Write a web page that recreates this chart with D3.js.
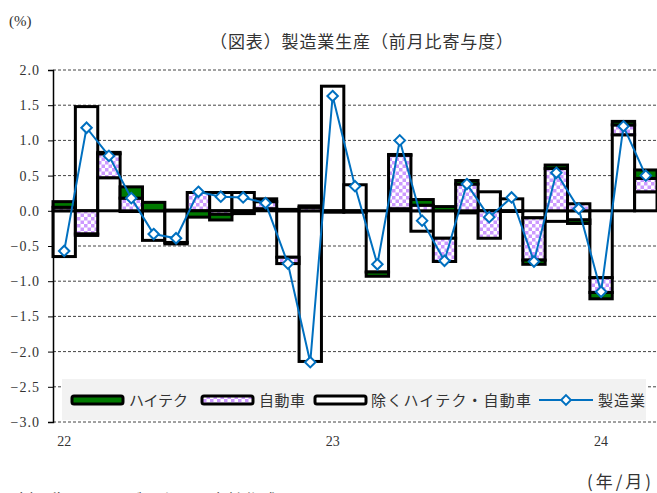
<!DOCTYPE html>
<html>
<head>
<meta charset="utf-8">
<script src="https://cdn.jsdelivr.net/npm/d3@7"></script>
<style>
  body { margin: 0; background: #fff; }
  svg text { fill: #333; }
</style>
</head>
<body>
<svg id="chart" width="657" height="493"></svg>
<script>
// monthly contributions, Jan 2022 .. Mar 2024
const months = d3.range(27);
const yearTicks = [{ i: 0, label: '22' }, { i: 12, label: '23' }, { i: 24, label: '24' }];

const hitech = [0.08, -0.02, 0.02, 0.16, 0.12, 0.01, -0.09, -0.08, 0.00, 0.04, 0.02, 0.02,
                -0.02, -0.02, -0.06, 0.01, 0.08, 0.06, 0.05, 0.00, -0.01, -0.06, 0.05, -0.05,
                -0.09, 0.05, 0.12];
const auto = [0.05, -0.33, 0.34, 0.18, 0.00, -0.02, 0.26, -0.05, -0.04, 0.10, -0.09, 0.05,
              0.00, 0.00, 0.00, 0.76, 0.08, -0.33, 0.38, -0.39, 0.00, -0.60, 0.60, 0.10,
              -0.21, 0.14, 0.19];
const exHitechAuto = [-0.65, 1.48, 0.47, -0.01, -0.42, -0.45, 0.00, 0.26, 0.26, 0.03, -0.66, -2.14,
                      1.77, 0.37, -0.87, 0.03, -0.29, -0.39, -0.03, 0.27, 0.17, -0.10, -0.15, -0.13,
                      -0.95, 1.08, 0.27];
const manufacturing = [-0.57, 1.18, 0.78, 0.18, -0.33, -0.39, 0.27, 0.20, 0.19, 0.11, -0.75, -2.15,
                       1.63, 0.35, -0.76, 1.00, -0.14, -0.71, 0.38, -0.09, 0.19, -0.72, 0.54, 0.03,
                       -1.15, 1.20, 0.50];
const yTicks = d3.range(-3, 2.01, 0.5);

const jpFont = '"Noto Sans CJK JP", sans-serif';
const numFont = '"Liberation Serif", "DejaVu Serif", serif';

const svg = d3.select('#chart');

const x = d3.scaleBand().domain(months).range([53, 657]).padding(0);
const y = d3.scaleLinear().domain([-3, 2]).range([422, 70]);

// checker pattern for the auto series
const defs = svg.append('defs');
const pat = defs.append('pattern')
    .attr('id', 'checker')
    .attr('patternUnits', 'userSpaceOnUse')
    .attr('width', 7).attr('height', 7);
pat.append('rect').attr('width', 7).attr('height', 7).attr('fill', '#fff');
pat.append('rect').attr('width', 3.5).attr('height', 3.5).attr('fill', '#cc99ff');
pat.append('rect').attr('x', 3.5).attr('y', 3.5).attr('width', 3.5).attr('height', 3.5).attr('fill', '#cc99ff');

// gridlines
svg.append('g').selectAll('line')
  .data(yTicks.filter(d => Math.abs(d) > 1e-9))
  .enter().append('line')
    .attr('x1', 53).attr('x2', 657)
    .attr('y1', d => y(d)).attr('y2', d => y(d))
    .attr('stroke', '#444')
    .attr('stroke-width', 1)
    .attr('stroke-dasharray', '3,2');

// zero line
svg.append('line')
  .attr('x1', 53).attr('x2', 657)
  .attr('y1', y(0)).attr('y2', y(0))
  .attr('stroke', '#777').attr('stroke-width', 1.2);

// stacked bars
const table = months.map(i => ({ ex: exHitechAuto[i], auto: auto[i], hitech: hitech[i] }));
const keys = ['ex', 'auto', 'hitech'];
const fills = { ex: '#ffffff', auto: 'url(#checker)', hitech: '#007a00' };
const series = d3.stack().keys(keys).offset(d3.stackOffsetDiverging)(table);

svg.append('g').selectAll('g')
  .data(series)
  .enter().append('g')
    .attr('fill', d => fills[d.key])
  .selectAll('rect')
  .data(d => d.map((v, i) => ({ v, i })))
  .enter().append('rect')
    .attr('x', d => x(d.i))
    .attr('width', x.bandwidth())
    .attr('y', d => y(Math.max(d.v[0], d.v[1])))
    .attr('height', d => Math.abs(y(d.v[0]) - y(d.v[1])))
    .attr('stroke', '#000')
    .attr('stroke-width', d => Math.abs(d.v[1] - d.v[0]) > 1e-9 ? 3 : 0);

// left axis
const yAxis = svg.append('g').attr('transform', 'translate(53,0)')
  .call(d3.axisLeft(y).tickValues(yTicks).tickSize(5).tickPadding(8)
    .tickFormat(d => d3.format('.1f')(d).replace('-', '−')));
yAxis.select('.domain').attr('stroke', '#000').attr('stroke-width', 1.5);
yAxis.selectAll('.tick line').attr('stroke', '#000');
yAxis.selectAll('text')
  .attr('font-family', numFont).attr('font-size', 14)
  .attr('letter-spacing', '1px').attr('fill', '#333');

// x labels
svg.append('g').selectAll('text')
  .data(yearTicks)
  .enter().append('text')
    .attr('x', d => x(d.i) + x.bandwidth() / 2)
    .attr('y', 446)
    .attr('text-anchor', 'middle')
    .attr('font-family', numFont).attr('font-size', 14)
    .text(d => d.label);

// manufacturing line
const line = d3.line().x((d, i) => x(i) + x.bandwidth() / 2).y(d => y(d));
svg.append('path')
  .datum(manufacturing)
  .attr('d', line)
  .attr('fill', 'none')
  .attr('stroke', '#0070c0')
  .attr('stroke-width', 2);

svg.append('g').selectAll('path')
  .data(manufacturing)
  .enter().append('path')
    .attr('d', d3.symbol(d3.symbolDiamond2, 70))
    .attr('transform', (d, i) => `translate(${x(i) + x.bandwidth() / 2},${y(d)})`)
    .attr('fill', '#fff')
    .attr('stroke', '#0070c0')
    .attr('stroke-width', 2);

// legend
const lg = svg.append('g');
lg.append('rect').attr('x', 62).attr('y', 379).attr('width', 584).attr('height', 41).attr('fill', '#f2f2f2');

const legendItems = [
  { label: 'ハイテク', fill: fills.hitech, x: 72, tx: 129, w: 59 },
  { label: '自動車', fill: fills.auto, x: 202, tx: 259, w: 46 },
  { label: '除くハイテク・自動車', fill: fills.ex, x: 315, tx: 371, w: 160 }
];
const ly = 400;
legendItems.forEach(it => {
  lg.append('rect')
    .attr('x', it.x).attr('y', ly - 4).attr('width', 51).attr('height', 8)
    .attr('rx', 2)
    .attr('fill', it.fill).attr('stroke', '#000').attr('stroke-width', 3);
  lg.append('text')
    .attr('x', it.tx).attr('y', ly + 5.5)
    .attr('font-family', jpFont).attr('font-size', 15)
    .attr('textLength', it.w)
    .text(it.label);
});
lg.append('line').attr('x1', 539).attr('x2', 593).attr('y1', ly).attr('y2', ly)
  .attr('stroke', '#0070c0').attr('stroke-width', 2);
lg.append('path')
  .attr('d', d3.symbol(d3.symbolDiamond2, 60))
  .attr('transform', `translate(566,${ly})`)
  .attr('fill', '#fff').attr('stroke', '#0070c0').attr('stroke-width', 2);
lg.append('text')
  .attr('x', 598).attr('y', ly + 5.5)
  .attr('font-family', jpFont).attr('font-size', 15)
  .attr('textLength', 47)
  .text('製造業');

// titles and notes
svg.append('text')
  .attr('x', 210).attr('y', 48)
  .attr('font-family', jpFont).attr('font-size', 17)
  .attr('textLength', 303)
  .text('（図表）製造業生産（前月比寄与度）');

svg.append('text')
  .attr('x', 9).attr('y', 26)
  .attr('font-family', numFont).attr('font-size', 15)
  .text('(%)');

svg.append('text')
  .attr('x', 587).attr('y', 488)
  .attr('font-family', jpFont).attr('font-size', 17)
  .attr('textLength', 64)
  .text('(年/月)');

svg.append('text')
  .attr('x', 6).attr('y', 507)
  .attr('font-family', jpFont).attr('font-size', 17)
  .text('（出所）ＦＲＢデータより当社作成');
</script>
</body>
</html>
